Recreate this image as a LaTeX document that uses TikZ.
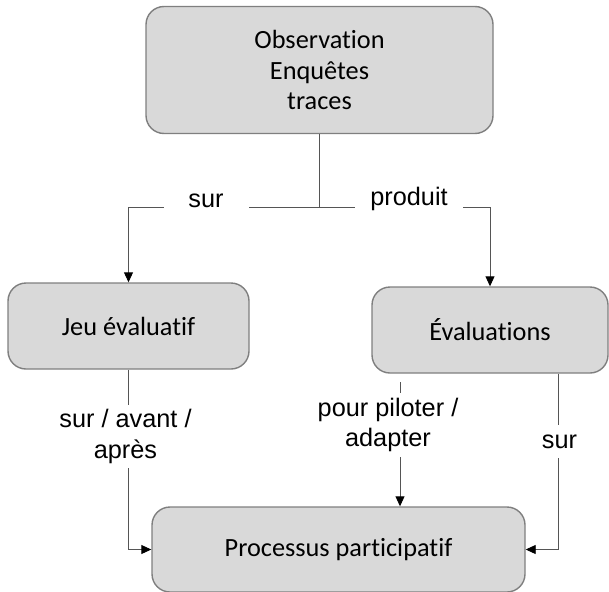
\documentclass[tikz,border=0pt]{standalone}
\usepackage{fontspec}
\setmainfont{Carlito}[Ligatures=NoCommon]
\newfontfamily\labelfont{Liberation Sans}
\usetikzlibrary{arrows.meta}

\definecolor{boxfill}{HTML}{D9D9D9}
\definecolor{boxline}{HTML}{7F7F7F}
\definecolor{linkline}{HTML}{555555}

\begin{document}
\begin{tikzpicture}[x=1pt, y=-1pt,
  stage/.style={draw=boxline, line width=1.4pt, fill=boxfill, rounded corners=18pt,
    align=center, font=\fontsize{26.3}{30.5}\selectfont, inner sep=0pt},
  link/.style={draw=linkline, line width=0.9pt},
  arrowlink/.style={link, -{Triangle[length=10pt, width=9pt, color=black]}},
  tag/.style={fill=white, inner sep=0pt, align=center,
    font=\labelfont\fontsize{25.3}{30.5}\selectfont}
]
\useasboundingbox (0,0) rectangle (609,591);

% boxes
\node[stage, minimum width=347pt, minimum height=127pt] (obs) at (319.5,70)
  {Observation\\Enquêtes\\traces};
\node[stage, minimum width=241pt, minimum height=86pt] (jeu) at (128.5,326) {Jeu évaluatif};
\node[stage, minimum width=236pt, minimum height=86pt] (eval) at (490,330) {Évaluations};
\node[stage, minimum width=373pt, minimum height=85pt] (proc) at (338.5,549.5) {Processus participatif};

% split below the top box
\coordinate (split) at (319.5,207);
\draw[link] (obs.south) -- (split);
\draw[arrowlink] (split) -| (jeu.north);
\draw[arrowlink] (split) -| (eval.north);

% links into the bottom box
\draw[arrowlink] (jeu.south) |- (proc.west);
\draw[arrowlink] (eval.south -| 558,0) |- (proc.east);
\coordinate (pilot) at (400,382);
\draw[arrowlink] (pilot) -- (pilot |- proc.north);

% link labels
\node[tag, minimum width=85pt, minimum height=31pt] (tsur) at (206,200.5) {sur};
\node[tag, minimum width=108pt, minimum height=31pt] (tprod) at (409,198.5) {produit};
\node[tag, minimum width=159pt, minimum height=63pt] (tavant) at (125.5,436.5) {sur / avant /\\après};
\node[tag, minimum width=188pt, minimum height=64pt] (tpilot) at (388,425) {pour piloter /\\adapter};
\node[tag, minimum width=49pt, minimum height=33pt] (tsur2) at (559.5,441.5) {sur};
\end{tikzpicture}
\end{document}
